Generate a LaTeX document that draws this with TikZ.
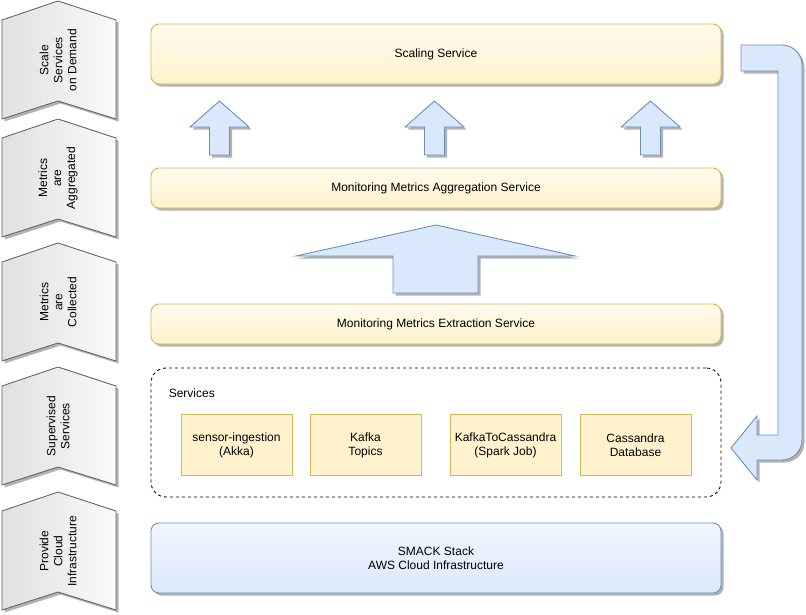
\documentclass[tikz,border=0pt]{standalone}
\usepackage{fontspec}
\setmainfont{Liberation Sans}
\usetikzlibrary{shadows}

\definecolor{yellowfill}{HTML}{FFF2CC}
\definecolor{yellowline}{HTML}{D6B656}
\definecolor{bluefill}{HTML}{DAE8FC}
\definecolor{blueline}{HTML}{6C8EBF}
\definecolor{greyline}{HTML}{666666}

\tikzset{
  shadowed/.style={drop shadow={shadow xshift=2.5pt,shadow yshift=-2.5pt,fill=black,opacity=0.3}},
  chev/.style={draw=greyline,left color=black!12,right color=black!2,shadowed},
  chevtext/.style={rotate=90,align=center,font=\fontsize{12}{14}\selectfont},
  bar/.style={draw=yellowline,rounded corners=8pt,top color=yellowfill!35!white,bottom color=yellowfill,
    minimum width=570pt,shadowed,font=\fontsize{12}{14}\selectfont},
  service/.style={draw=yellowline,fill=yellowfill,minimum width=111pt,minimum height=61pt,
    align=center,font=\fontsize{12}{14}\selectfont},
  bigarrow/.style={draw=blueline,fill=bluefill,shadowed}
}

\begin{document}
\begin{tikzpicture}[x=1pt,y=-1pt,line width=0.9pt]
    \useasboundingbox (0,0) rectangle (806,614);

    % steps on the left
    \draw[chev] (2,20) -- (58,1) -- (116,20) -- (116,119) -- (58,101) -- (2,119) -- cycle;
    \node[chevtext] (scale) at (58,60) {Scale\\Services\\on Demand};
    \draw[chev] (2,138) -- (58,119) -- (116,138) -- (116,237) -- (58,219) -- (2,237) -- cycle;
    \node[chevtext] (aggregated) at (58,178) {Metrics\\are\\Aggregated};
    \draw[chev] (2,262) -- (58,243) -- (116,262) -- (116,361) -- (58,343) -- (2,361) -- cycle;
    \node[chevtext] (collected) at (58,302) {Metrics\\are\\Collected};
    \draw[chev] (2,386) -- (58,367) -- (116,386) -- (116,485) -- (58,467) -- (2,485) -- cycle;
    \node[chevtext] (supervised) at (58,426) {Supervised\\Services};
    \draw[chev] (2,511) -- (58,492) -- (116,511) -- (116,610) -- (58,592) -- (2,610) -- cycle;
    \node[chevtext] (cloud) at (58,551) {Provide\\Cloud\\Infrastructure};

    % layers
    \node[bar,minimum height=60pt] (scaling) at (436,54) {Scaling Service};
    \node[bar,minimum height=40pt] (aggregation) at (436,188) {Monitoring Metrics Aggregation Service};
    \node[bar,minimum height=40pt] (extraction) at (436,324) {Monitoring Metrics Extraction Service};

    \node[draw,dash pattern=on 3pt off 3pt,rounded corners=15pt,minimum width=570pt,minimum height=129pt] (services) at (436,432.5) {};
    \node[anchor=west,font=\fontsize{12}{14}\selectfont] (serviceslabel) at (165,393) {Services};
    \node[service] (ingestion) at (236.5,445) {sensor-ingestion\\(Akka)};
    \node[service] (topics) at (365.5,445) {Kafka\\Topics};
    \node[service] (sparkjob) at (505.5,445) {KafkaToCassandra\\(Spark Job)};
    \node[service] (cassandra) at (635.5,445) {Cassandra\\Database};

    \node[draw=blueline,rounded corners=8pt,top color=bluefill!35!white,bottom color=bluefill,
      minimum width=570pt,minimum height=70pt,align=center,shadowed,
      font=\fontsize{12}{14}\selectfont] (smack) at (436,558) {SMACK Stack\\AWS Cloud Infrastructure};

    % arrows
    \draw[bigarrow] (219.5,101) -- (249,127) -- (229.5,127) -- (229.5,155) -- (209.5,155) -- (209.5,127) -- (190,127) -- cycle;
    \draw[bigarrow] (434.5,101) -- (464,127) -- (444.5,127) -- (444.5,155) -- (424.5,155) -- (424.5,127) -- (405,127) -- cycle;
    \draw[bigarrow] (650.5,101) -- (680,127) -- (660.5,127) -- (660.5,155) -- (640.5,155) -- (640.5,127) -- (621,127) -- cycle;

    \draw[bigarrow] (436,225) -- (575,256) -- (478,256) -- (478,293) -- (393,293) -- (393,256) -- (296,256) -- cycle;

    \draw[bigarrow] (741,45) [rounded corners=20pt] -- (802,45) -- (802,460) [sharp corners] -- (757,460)
      -- (757,480) -- (731,448) -- (757,416) -- (757,435) -- (778,435) -- (778,71) -- (741,71) -- cycle;
\end{tikzpicture}
\end{document}
